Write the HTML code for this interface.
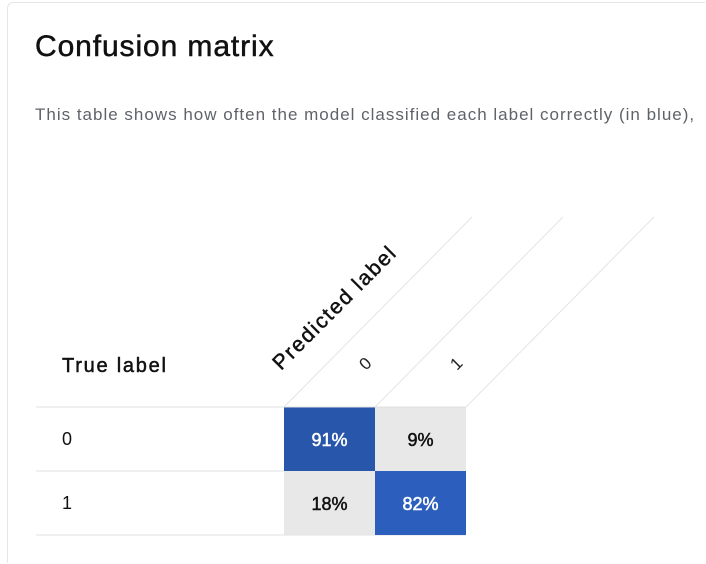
<!DOCTYPE html>
<html><head><meta charset="utf-8"><style>
html,body{margin:0;width:706px;height:564px;overflow:hidden}
body{background:#fff;font-family:"Liberation Sans",Arial,sans-serif;position:relative}
.card{position:absolute;left:7px;top:2px;width:698px;height:561px;border-left:1px solid #e6e6e6;border-top:1px solid #e6e6e6;border-top-left-radius:6px;box-sizing:border-box}
h1{position:absolute;left:35px;top:30px;margin:0;font-size:30px;font-weight:normal;color:#111;letter-spacing:0.9px;-webkit-text-stroke:0.5px #111}
p{position:absolute;left:35px;top:105px;margin:0;font-size:17px;color:#5f6368;white-space:nowrap;letter-spacing:1px}
svg{position:absolute;left:0;top:0}
</style></head><body>
<div class="card"></div>
<h1>Confusion matrix</h1>
<p>This table shows how often the model classified each label correctly (in blue),</p>
<svg id="chart" width="706" height="564"></svg>
<script>
const labels=["0","1"];
const row0=[91,9];
const row1=[18,82];
const values=[row0,row1];
const NS="http://www.w3.org/2000/svg";
const svg=document.getElementById('chart');
function mk(t,a,txt){const e=document.createElementNS(NS,t);for(const k in a)e.setAttribute(k,a[k]);if(txt!=null)e.textContent=txt;svg.appendChild(e);return e;}
const x0=284,cw=91,y0=407,rh=64,tableLeft=36;
const colX=i=>x0+i*cw, rowY=i=>y0+i*rh;
for(let i=0;i<=labels.length;i++){
 const l=mk('line',{x1:colX(i),y1:y0,x2:colX(i)+188,y2:y0-190,stroke:'#e4e4e4','stroke-width':1});
 
}
const tl=mk('text',{x:62,y:372,'font-size':20,fill:'#111','stroke':'#111','stroke-width':0.5,'textLength':104},'True label');

const pl=mk('text',{x:0,y:0,'font-size':21,fill:'#111','stroke':'#111','stroke-width':0.5,'textLength':164,transform:'translate(281,371) rotate(-45)'},'Predicted label');

labels.forEach((lb,i)=>{
 const t=mk('text',{x:0,y:0,'font-size':17,fill:'#222',transform:`translate(${colX(i)+82},${371}) rotate(-45)`},lb);
 
});
for(let r=0;r<=labels.length;r++){
 const l=mk('line',{x1:tableLeft,y1:rowY(r),x2:colX(labels.length),y2:rowY(r),stroke:'#e0e0e0','stroke-width':1});
 
}
values.forEach((row,r)=>{
 const rl=mk('text',{x:62,y:rowY(r)+38,'font-size':18,fill:'#111'},labels[r]);
 
 row.forEach((v,c)=>{
  const diag=r===c;
  const fill=diag?(v>=88?'#2756ab':'#2b5ebd'):'#e8e8e8';
  const rc=mk('rect',{x:colX(c),y:rowY(r)+(r?0:0.5),width:cw,height:rh,fill:fill});
  
  const col=diag?'#fff':'#111';
  const t=mk('text',{x:colX(c)+cw/2,y:rowY(r)+39,'font-size':18,'text-anchor':'middle',fill:col,stroke:col,'stroke-width':0.5},v+'%');
  
 });
});
</script>
</body></html>
